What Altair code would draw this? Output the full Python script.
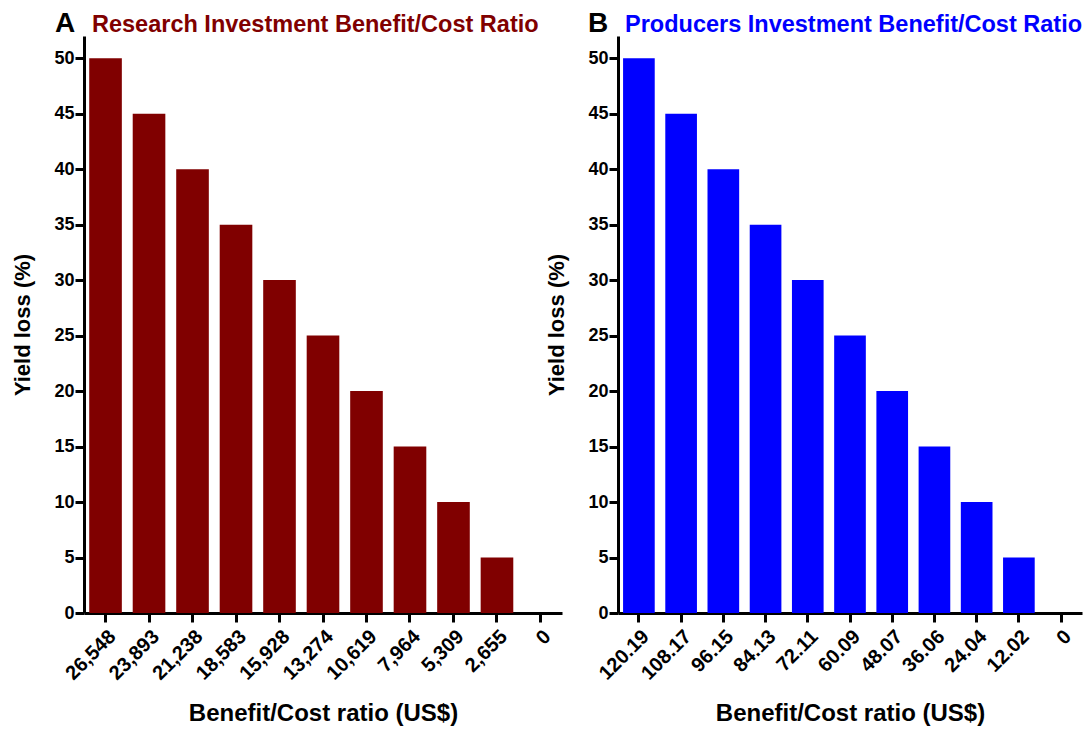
import altair as alt
import pandas as pd

yield_loss = [50, 45, 40, 35, 30, 25, 20, 15, 10, 5, 0]
research_bc = ["26,548", "23,893", "21,238", "18,583", "15,928", "13,274",
               "10,619", "7,964", "5,309", "2,655", "0"]
producer_bc = ["120.19", "108.17", "96.15", "84.13", "72.11", "60.09",
               "48.07", "36.06", "24.04", "12.02", "0"]
y_ticks = [0, 5, 10, 15, 20, 25, 30, 35, 40, 45, 50]

FONT = "Liberation Sans"


def panel(labels, color, title, letter, width, title_x, letter_x):
    df = pd.DataFrame({"bc": labels, "loss": yield_loss})
    bars = alt.Chart(df).mark_bar(color=color).encode(
        x=alt.X("bc:N", sort=labels,
                scale=alt.Scale(paddingInner=0.25, paddingOuter=0.12),
                axis=alt.Axis(title="Benefit/Cost ratio (US$)", labelAngle=-45,
                              labelAlign="right", labelBaseline="top",
                              labelPadding=4, titlePadding=18)),
        y=alt.Y("loss:Q", scale=alt.Scale(domain=[0, 52], nice=False),
                axis=alt.Axis(title="Yield loss (%)", values=y_ticks,
                              labelPadding=1, titlePadding=19)),
    )
    letter_mark = alt.Chart(pd.DataFrame({"t": [letter]})).mark_text(
        font=FONT, fontSize=28, fontWeight="bold", color="black",
        align="left", baseline="alphabetic"
    ).encode(text="t:N", x=alt.value(letter_x), y=alt.value(-4))
    title_mark = alt.Chart(pd.DataFrame({"t": [title]})).mark_text(
        font=FONT, fontSize=23.5, fontWeight="bold", color=color,
        align="left", baseline="alphabetic"
    ).encode(text="t:N", x=alt.value(title_x), y=alt.value(-4))
    return alt.layer(bars, letter_mark, title_mark).properties(
        width=width, height=577)


a = panel(research_bc, "#800000", "Research Investment Benefit/Cost Ratio",
          "A", 478, 8, -29)
b = panel(producer_bc, "#0000FF", "Producers Investment Benefit/Cost Ratio",
          "B", 464, 7, -30)

chart = alt.hconcat(a, b, spacing=56, bounds="flush").properties(
    padding={"left": 3, "top": 2, "right": 0, "bottom": 0}
).configure_view(stroke=None).configure_axis(
    grid=False, domainColor="black", domainWidth=3, tickColor="black",
    tickWidth=3, tickSize=9, labelFont=FONT, labelFontWeight="bold",
    labelColor="black", titleFont=FONT, titleFontWeight="bold",
    titleColor="black",
).configure_axisX(
    labelFontSize=20, titleFontSize=24
).configure_axisY(
    labelFontSize=18, titleFontSize=22
)

chart.save("out.html", embed_options={"renderer": "svg", "actions": False})
